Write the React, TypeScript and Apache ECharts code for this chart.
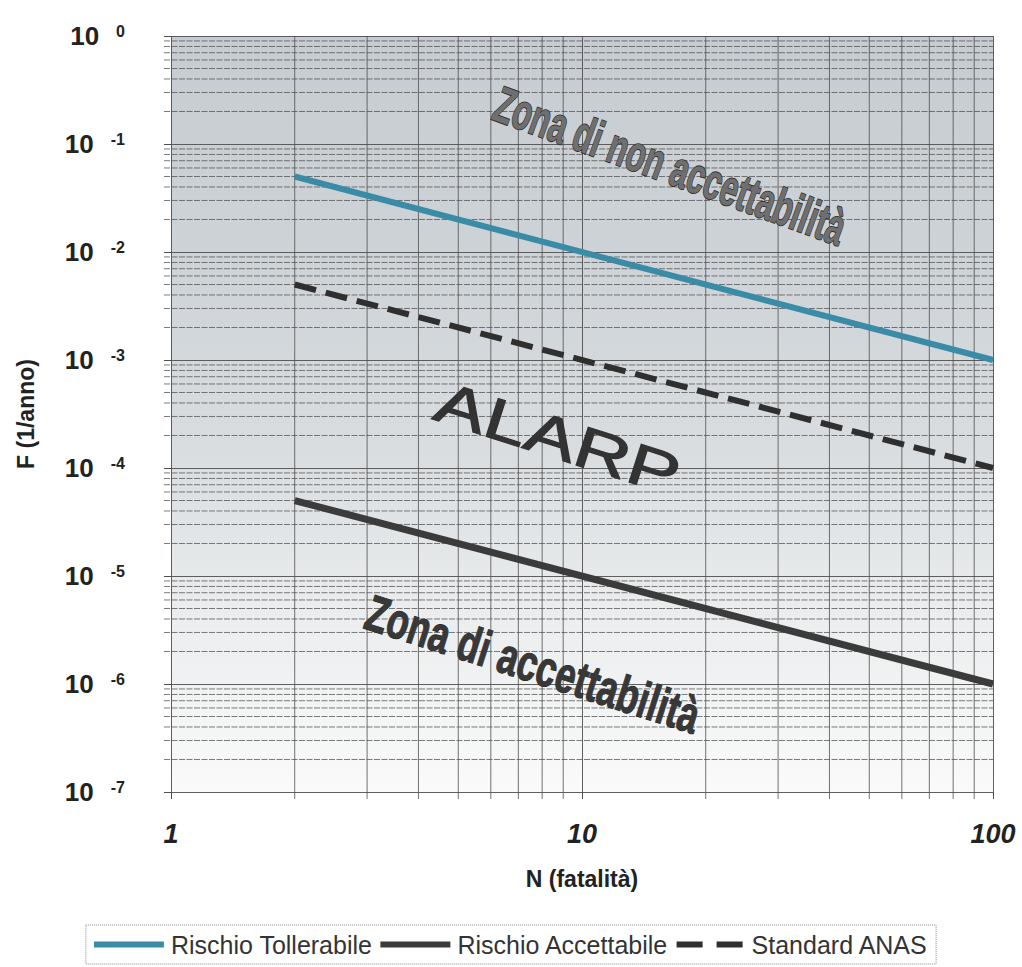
import React, { useEffect, useRef } from "react";
import * as echarts from "echarts";

// ---- data ----
const SERIES_NAMES = ["Rischio Tollerabile", "Rischio Accettabile", "Standard ANAS"];
const N_TOLLERABILE = [2, 100];
const F_TOLLERABILE = [0.05, 0.001];
const N_ACCETTABILE = [2, 100];
const F_ACCETTABILE = [5e-5, 1e-6];
const N_ANAS = [2, 100];
const F_ANAS = [5e-3, 1e-4];

// axis ranges / grid lines
const X_MIN = 1;
const X_MAX = 100;
const Y_MIN = 1e-7;
const Y_MAX = 1;
const X_MINOR = [2, 3, 4, 5, 6, 7, 8, 9, 20, 30, 40, 50, 60, 70, 80, 90];
const MINOR_FACTORS = [2, 3, 4, 5, 6, 7, 8, 9];
const Y_DECADES = [1e-7, 1e-6, 1e-5, 1e-4, 1e-3, 1e-2, 1e-1];

const FONT = "'Liberation Sans', Arial, sans-serif";

export default function App() {
  const ref = useRef<HTMLDivElement>(null);

  useEffect(() => {
    if (!ref.current) return;
    const chart = echarts.init(ref.current, undefined, { renderer: "svg" });

    const pair = (xs: number[], ys: number[]) => xs.map((x, i) => [x, ys[i]]);

    const yMinor: number[] = [];
    Y_DECADES.forEach((d) => MINOR_FACTORS.forEach((f) => yMinor.push(f * d)));

    const gridColor = "#4f4f4f";
    const gridLineStyle = { color: gridColor, width: 1, type: "solid" as const, opacity: 0.9 };

    const option: any = {
      animation: false,
      backgroundColor: "#ffffff",
      grid: {
        left: 171,
        right: 29,
        top: 36,
        bottom: 175,
        show: true,
        borderWidth: 0,
        backgroundColor: new echarts.graphic.LinearGradient(0, 0, 0, 1, [
          { offset: 0, color: "#c6ccd1" },
          { offset: 0.3, color: "#ced3d7" },
          { offset: 0.55, color: "#d9dde0" },
          { offset: 0.75, color: "#eaeced" },
          { offset: 1, color: "#fafafa" },
        ]),
      },
      xAxis: {
        type: "log",
        logBase: 10,
        min: X_MIN,
        max: X_MAX,
        name: "N (fatalità)",
        nameLocation: "middle",
        nameGap: 75,
        nameTextStyle: { fontSize: 23, fontWeight: "bold", color: "#222", fontFamily: FONT },
        axisLine: { show: false },
        axisTick: { show: true, length: 7, lineStyle: { color: gridColor } },
        axisLabel: {
          margin: 28,
          fontSize: 27,
          fontWeight: "bold",
          fontStyle: "italic",
          color: "#222",
          fontFamily: FONT,
          formatter: (v: number) => String(Math.round(v)),
        },
        splitLine: { show: true, lineStyle: gridLineStyle },
      },
      yAxis: {
        type: "log",
        logBase: 10,
        min: Y_MIN,
        max: Y_MAX,
        name: "F (1/anno)",
        nameLocation: "middle",
        nameRotate: 90,
        nameGap: 134,
        nameTextStyle: { fontSize: 23, fontWeight: "bold", color: "#222", fontFamily: FONT },
        axisLine: { show: false },
        axisTick: { show: true, length: 7, lineStyle: { color: gridColor } },
        axisLabel: {
          margin: 46,
          formatter: (v: number) => {
            const e = Math.round(Math.log10(v));
            return `{b|10}{s|${e}}`;
          },
          rich: {
            b: { fontSize: 26, fontWeight: "bold", color: "#222", fontFamily: FONT, verticalAlign: "bottom" },
            s: {
              fontSize: 16,
              fontWeight: "bold",
              color: "#222",
              fontFamily: FONT,
              verticalAlign: "top",
              padding: [0, 0, 0, 17],
            },
          },
        },
        splitLine: { show: true, lineStyle: gridLineStyle },
      },
      legend: {
        data: [
          { name: SERIES_NAMES[0], icon: "rect" },
          { name: SERIES_NAMES[1], icon: "rect" },
          { name: SERIES_NAMES[2], icon: "path://M0,0H26V6H0Z M40,0H66V6H40Z" },
        ],
        left: "center",
        top: 925,
        itemWidth: 70,
        itemHeight: 6,
        itemGap: 8,
        padding: [7, 8, 7, 8],
        borderColor: "#8a8a8a",
        borderWidth: 1,
        borderType: "dotted",
        textStyle: { fontSize: 25, color: "#333", fontFamily: FONT, padding: [0, 0, 0, 2] },
      },
      series: [
        {
          name: "grid-minor-x",
          type: "custom",
          silent: true,
          clip: false,
          z: 1,
          data: X_MINOR.map((v) => [v, Y_MAX]),
          renderItem: (_p: any, api: any) => {
            const x = api.coord([api.value(0), Y_MAX])[0];
            const yTop = api.coord([X_MIN, Y_MAX])[1];
            const yBot = api.coord([X_MIN, Y_MIN])[1];
            return {
              type: "line",
              shape: { x1: x, y1: yTop, x2: x, y2: yBot + 7 },
              style: { stroke: gridColor, lineWidth: 1, opacity: 0.8 },
            };
          },
        },
        {
          name: "grid-minor-y",
          type: "custom",
          silent: true,
          clip: false,
          z: 1,
          data: yMinor.map((v) => [X_MIN, v]),
          renderItem: (_p: any, api: any) => {
            const y = api.coord([X_MIN, api.value(1)])[1];
            const xL = api.coord([X_MIN, Y_MIN])[0];
            const xR = api.coord([X_MAX, Y_MIN])[0];
            return {
              type: "line",
              shape: { x1: xL - 7, y1: y, x2: xR, y2: y },
              style: { stroke: gridColor, lineWidth: 1, opacity: 0.75, lineDash: [6, 1.5] },
            };
          },
        },
        {
          name: SERIES_NAMES[0],
          type: "line",
          data: pair(N_TOLLERABILE, F_TOLLERABILE),
          symbol: "none",
          showSymbol: false,
          lineStyle: { color: "#3a8ba6", width: 6 },
          itemStyle: { color: "#3a8ba6" },
          z: 5,
        },
        {
          name: SERIES_NAMES[1],
          type: "line",
          data: pair(N_ACCETTABILE, F_ACCETTABILE),
          symbol: "none",
          showSymbol: false,
          lineStyle: { color: "#3b3b3b", width: 7 },
          itemStyle: { color: "#3b3b3b" },
          z: 5,
        },
        {
          name: SERIES_NAMES[2],
          type: "line",
          data: pair(N_ANAS, F_ANAS),
          symbol: "none",
          showSymbol: false,
          lineStyle: { color: "#2f2f2f", width: 6, type: [22, 10], cap: "butt" },
          itemStyle: { color: "#2f2f2f" },
          z: 5,
        },
      ],
      graphic: [
        {
          type: "text",
          x: 670,
          y: 166,
          rotation: -0.35,
          scaleX: 0.62,
          z: 10,
          style: {
            text: "Zona di non accettabilità",
            fontSize: 51,
            fontWeight: "bold",
            fontFamily: FONT,
            fill: "#6f6f6f",
            stroke: "#2e2e2e",
            lineWidth: 1.8,
            align: "center",
            verticalAlign: "middle",
          },
        },
        {
          type: "text",
          x: 558,
          y: 438,
          rotation: -0.31,
          scaleX: 1.33,
          z: 10,
          style: {
            text: "ALARP",
            fontSize: 58,
            fontFamily: FONT,
            fill: "#333333",
            stroke: "#333333",
            lineWidth: 1.2,
            align: "center",
            verticalAlign: "middle",
          },
        },
        {
          type: "text",
          x: 533,
          y: 664,
          rotation: -0.31,
          scaleX: 0.71,
          z: 10,
          style: {
            text: "Zona di accettabilità",
            fontSize: 51,
            fontWeight: "bold",
            fontFamily: FONT,
            fill: "#383838",
            stroke: "#222222",
            lineWidth: 1,
            align: "center",
            verticalAlign: "middle",
          },
        },
      ],
    };

    chart.setOption(option);
    return () => chart.dispose();
  }, []);

  return (
    <div
      ref={ref}
      style={{ position: "fixed", left: 0, top: 0, width: 1022, height: 967, background: "#fff" }}
    />
  );
}
